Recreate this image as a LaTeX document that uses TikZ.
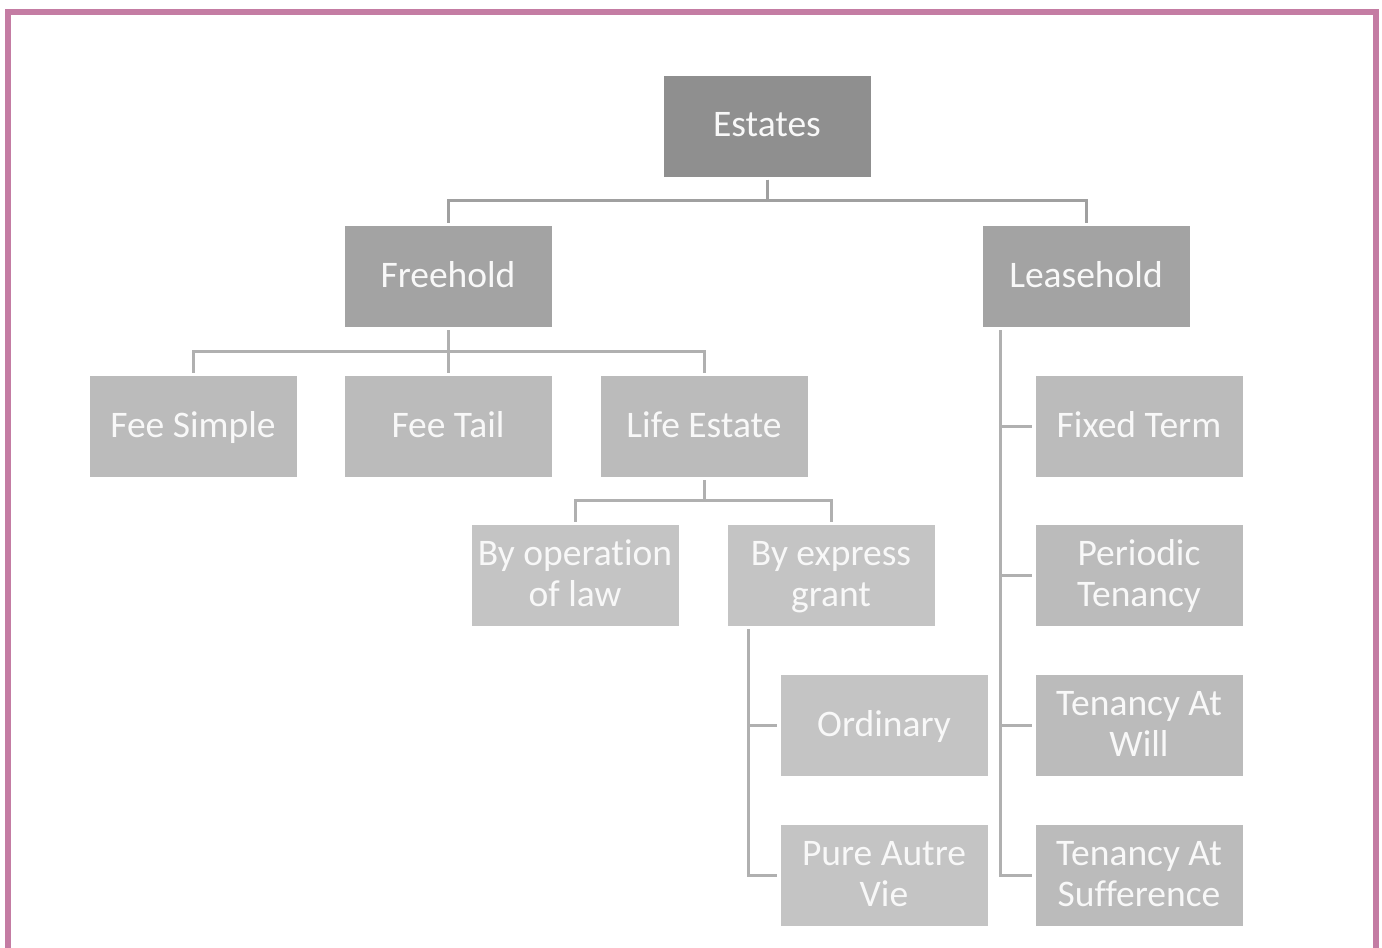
\documentclass[tikz,border=0pt]{standalone}
\usepackage{fontspec}
\setmainfont{Carlito}[Ligatures=NoCommon]
\usetikzlibrary{calc}
\definecolor{frame}{HTML}{C47CA3}
\definecolor{cA}{HTML}{8F8F8F}
\definecolor{cB}{HTML}{A3A3A3}
\definecolor{cC}{HTML}{BBBBBB}
\definecolor{cD}{HTML}{C4C4C4}
\definecolor{lnA}{HTML}{A0A0A0}
\definecolor{lnB}{HTML}{B0B0B0}
\definecolor{txt}{HTML}{F8F8F8}
\newcommand\tops{\rule[-10pt]{0pt}{41pt}}
\newcommand\bots{\rule[-10pt]{0pt}{20pt}}
\tikzset{
  box/.style={rectangle, inner sep=0pt, minimum width=207pt, minimum height=101pt,
    text=txt, align=center, font=\fontsize{37.5}{41}\selectfont},
  lvA/.style={box, fill=cA},
  lvB/.style={box, fill=cB},
  lvC/.style={box, fill=cC},
  lvD/.style={box, fill=cD},
  conn/.style={line width=3pt, draw=lnB, shorten <=3pt, shorten >=3pt},
  connA/.style={conn, draw=lnA},
}
\begin{document}
\begin{tikzpicture}[x=1pt, y=-1pt]
\useasboundingbox (0,0) rectangle (1382,948);
\draw[frame, line width=6pt] (8,948) -- (8,11.5) -- (1375.5,11.5) -- (1375.5,948);

\node[lvA] (est) at (767,126) {\tops Estates\bots};
\node[lvB] (free) at (448,276.5) {\tops Freehold\bots};
\node[lvB] (lease) at (1086,276.5) {\tops Leasehold\bots};

\node[lvC] (fs) at (193,426.5) {\tops Fee Simple\bots};
\node[lvC] (ft) at (448,426.5) {\tops Fee Tail\bots};
\node[lvC] (le) at (704,426.5) {\tops Life Estate\bots};

\node[lvD] (op) at (575,575.5) {\tops By operation\\of law\bots};
\node[lvD] (eg) at (831,575.5) {\tops By express\\grant\bots};

\node[lvD] (ord) at (884,725.5) {\tops Ordinary\bots};
\node[lvD] (pav) at (884,875.5) {\tops Pure Autre\\Vie\bots};

\node[lvC] (fix) at (1139,426.5) {\tops Fixed Term\bots};
\node[lvC] (per) at (1139,575.5) {\tops Periodic\\Tenancy\bots};
\node[lvC] (will) at (1139,725.5) {\tops Tenancy At\\Will\bots};
\node[lvC] (suf) at (1139,875.5) {\tops Tenancy At\\Sufference\bots};

% connectors
\draw[connA] (est.south) -- ++(0,24) -| (free.north);
\draw[connA] (est.south) -- ++(0,24) -| (lease.north);

\draw[conn] (free.south) -- ++(0,24) -| (fs.north);
\draw[conn] (free.south) -- ++(0,24) -| (ft.north);
\draw[conn] (free.south) -- ++(0,24) -| (le.north);

\draw[conn] (le.south) -- ++(0,23) -| (op.north);
\draw[conn] (le.south) -- ++(0,23) -| (eg.north);

\coordinate (egv) at ($(eg.south west)+(21,0)$);
\draw[conn] (egv) |- (ord.west);
\draw[conn] (egv) |- (pav.west);

\coordinate (lsv) at ($(lease.south west)+(18,0)$);
\draw[conn] (lsv) |- (fix.west);
\draw[conn] (lsv) |- (per.west);
\draw[conn] (lsv) |- (will.west);
\draw[conn] (lsv) |- (suf.west);
\end{tikzpicture}
\end{document}
